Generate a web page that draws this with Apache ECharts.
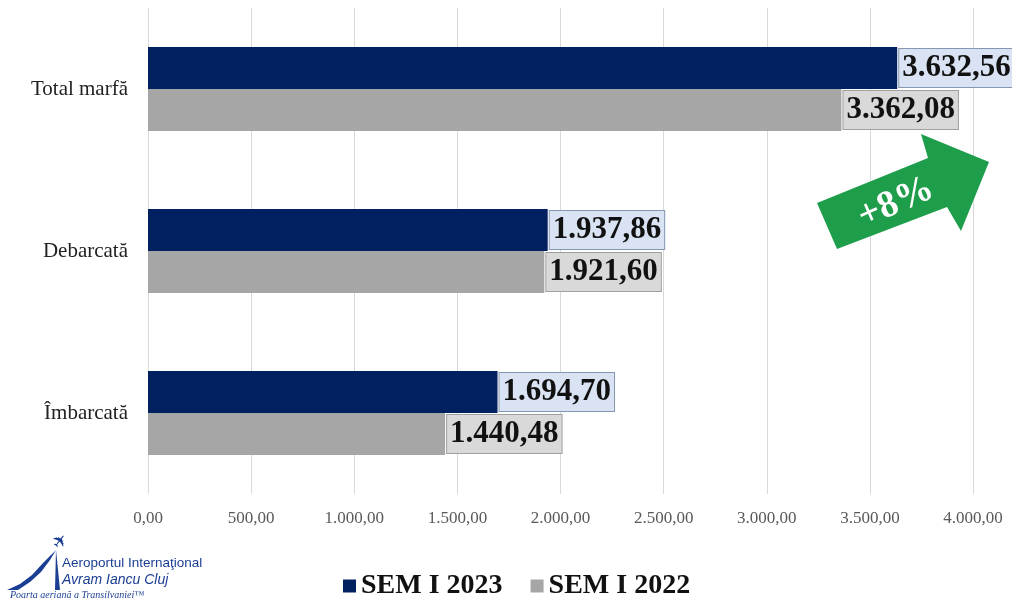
<!DOCTYPE html>
<html>
<head>
<meta charset="utf-8">
<script src="https://cdn.jsdelivr.net/npm/echarts@6/dist/echarts.min.js"></script>
<style>
  html, body { margin: 0; padding: 0; background: #fff; }
  #chart { width: 1012px; height: 601px; }
</style>
</head>
<body>
<div id="chart"></div>
<script>
// categorii si valori (tone)
const categories = ['Total marfă', 'Debarcată', 'Îmbarcată']
const sem2023 = [3632.56, 1937.86, 1694.70]
const sem2022 = [3362.08, 1921.60, 1440.48]
const seriesNames = ['SEM I 2023', 'SEM I 2022']
const growthLabel = '+8%'

const serif = '"Liberation Serif", "Times New Roman", serif'

// format romanesc: 1.234,56
const fmt = v => {
  const parts = Number(v).toFixed(2).split('.')
  return parts[0].replace(/\B(?=(\d{3})+(?!\d))/g, '.') + ',' + parts[1]
}

const chart = echarts.init(document.getElementById('chart'))

const labelStyle = (bg, border) => ({
  show: true,
  position: 'right',
  distance: 2,
  formatter: p => fmt(p.value),
  fontFamily: serif,
  fontWeight: 'bold',
  fontSize: 31,
  lineHeight: 34,
  color: '#111',
  backgroundColor: bg,
  borderColor: border,
  borderWidth: 1,
  padding: [3, 3, 1, 3]
})

const option = {
  animation: false,
  grid: { left: 148, right: 39, top: 8, bottom: 107 },
  xAxis: {
    type: 'value',
    min: 0,
    max: 4000,
    interval: 500,
    axisLine: { show: false },
    axisTick: { show: false },
    splitLine: { lineStyle: { color: '#d9d9d9' } },
    axisLabel: {
      formatter: v => fmt(v),
      fontFamily: serif,
      fontSize: 17,
      color: '#595959',
      margin: 16
    }
  },
  yAxis: {
    type: 'category',
    inverse: true,
    data: categories,
    axisLine: { show: false },
    axisTick: { show: false },
    axisLabel: {
      fontFamily: serif,
      fontSize: 21,
      color: '#222',
      margin: 20
    }
  },
  legend: {
    left: 338,
    top: 567,
    icon: 'rect',
    itemWidth: 13,
    itemHeight: 13,
    itemGap: 28,
    textStyle: { fontFamily: serif, fontWeight: 'bold', fontSize: 28, color: '#111' },
    data: seriesNames
  },
  series: [
    {
      name: seriesNames[0],
      type: 'bar',
      data: sem2023,
      barGap: '0%',
      barCategoryGap: '48%',
      itemStyle: { color: '#002060' },
      label: labelStyle('#dae3f3', '#8497b0')
    },
    {
      name: seriesNames[1],
      type: 'bar',
      data: sem2022,
      itemStyle: { color: '#a6a6a6' },
      label: labelStyle('#d9d9d9', '#a0a0a0')
    }
  ],
  graphic: [
    // sageata verde de crestere
    {
      type: 'polygon',
      z: 10,
      shape: {
        points: [[817, 203], [928, 158], [921, 134], [989, 162], [961, 231], [947, 207], [837, 249]]
      },
      style: { fill: '#1e9e4a' }
    },
    {
      type: 'text',
      z: 11,
      x: 896,
      y: 203,
      rotation: 0.42,
      style: {
        text: growthLabel,
        fill: '#fff',
        font: 'bold 38px ' + serif,
        align: 'center',
        verticalAlign: 'middle'
      }
    },
    // sigla aeroportului
    {
      type: 'polygon',
      z: 10,
      shape: {
        points: [[7, 590], [20, 584], [32, 575], [43, 563], [51, 555], [56, 550], [50, 560], [41, 572], [30, 582], [18, 590]]
      },
      style: { fill: '#1b3e93' }
    },
    {
      type: 'polygon',
      z: 10,
      shape: { points: [[56, 550], [60, 590], [55, 590]] },
      style: { fill: '#1b3e93' }
    },
    {
      type: 'text',
      z: 10,
      x: 61,
      y: 542,
      rotation: 0.9,
      style: {
        text: '✈',
        fill: '#1b3e93',
        font: '18px "DejaVu Sans"',
        align: 'center',
        verticalAlign: 'middle'
      }
    },
    {
      type: 'text',
      z: 10,
      x: 62,
      y: 563,
      style: {
        text: 'Aeroportul Internaţional',
        fill: '#1b3e93',
        font: '13.5px "Liberation Sans Narrow", "Liberation Sans", sans-serif',
        verticalAlign: 'middle'
      }
    },
    {
      type: 'text',
      z: 10,
      x: 62,
      y: 580,
      style: {
        text: 'Avram Iancu Cluj',
        fill: '#1b3e93',
        font: 'italic 14px "Liberation Sans Narrow", "Liberation Sans", sans-serif',
        verticalAlign: 'middle'
      }
    },
    {
      type: 'text',
      z: 10,
      x: 10,
      y: 595,
      style: {
        text: 'Poarta aeriană a Transilvaniei™',
        fill: '#1b3e93',
        font: 'italic 10px ' + serif,
        verticalAlign: 'middle'
      }
    }
  ]
}

chart.setOption(option)
</script>
</body>
</html>
